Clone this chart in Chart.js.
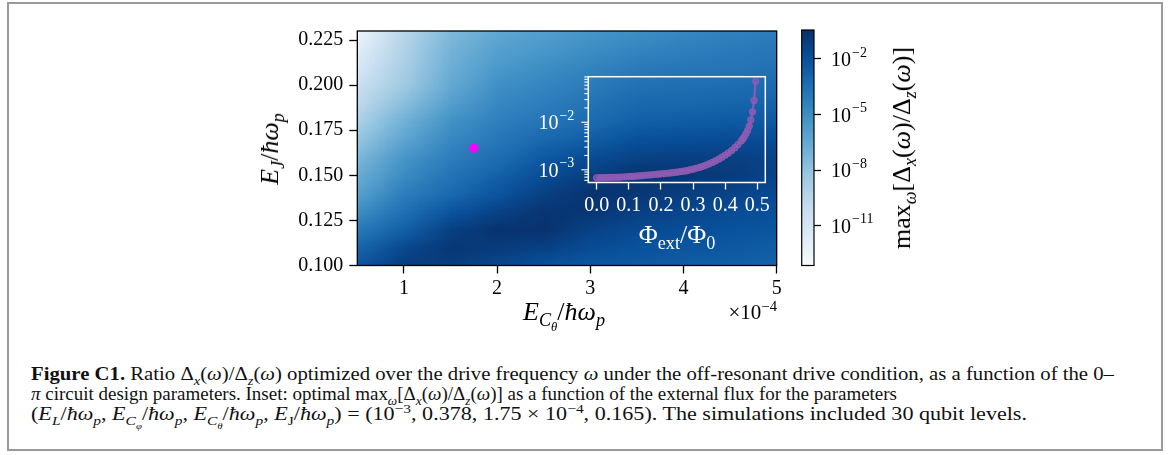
<!DOCTYPE html>
<html>
<head>
<meta charset="utf-8">
<script src="https://cdn.jsdelivr.net/npm/chart.js@4.4.1/dist/chart.umd.min.js"></script>
<style>
  html, body { margin: 0; padding: 0; background: #fff; }
  body { width: 1171px; height: 455px; position: relative; overflow: hidden; font-family: "Liberation Serif", serif; }
  #border { position: absolute; left: 7px; top: 2px; width: 1156px; height: 449px; box-sizing: border-box; border: 2px solid #9a9a9a; }
  .wrap { position: absolute; }
  .lbl { position: absolute; white-space: nowrap; font-family: "Liberation Serif", serif; font-size: 26px; color: #000; line-height: 1; }
  .center { transform: translate(-50%, -50%); }
  .rot { transform: translate(-50%, -50%) rotate(-90deg); }
  .lbl sub, .lbl sup, .cap sub, .cap sup { font-size: 70%; line-height: 0; }
  .cap { position: absolute; left: 31px; white-space: nowrap; font-size: 18.5px; line-height: 20px; color: #111; transform-origin: 0 50%; }
</style>
</head>
<body>
<div id="border"></div>

<div class="wrap" style="left:200px; top:0px; width:600px; height:340px;">
  <canvas id="mainChart" width="600" height="340"></canvas>
</div>
<div class="wrap" style="left:500px; top:60px; width:300px; height:200px;">
  <canvas id="insetChart" width="300" height="200"></canvas>
</div>
<div class="wrap" style="left:780px; top:0px; width:140px; height:300px;">
  <canvas id="cbarChart" width="140" height="300"></canvas>
</div>

<div class="lbl rot" style="left:270px; top:149px;"><i>E<sub>J</sub></i>/<i>ħω<sub>p</sub></i></div>
<div class="lbl center" style="left:564px; top:313px;"><i>E<sub>C<sub>θ</sub></sub></i>/<i>ħω<sub>p</sub></i></div>
<div class="lbl" style="right:394px; top:302px; font-size:21px;">×10<sup>−4</sup></div>
<div class="lbl rot" style="left:902px; top:148px;">max<sub><i>ω</i></sub>[Δ<sub><i>x</i></sub>(<i>ω</i>)/Δ<sub><i>z</i></sub>(<i>ω</i>)]</div>
<div class="lbl center" style="left:677px; top:235px; color:#fff;">Φ<sub>ext</sub>/Φ<sub>0</sub></div>

<div class="cap" id="cap1" style="top:364px;"><b>Figure C1.</b> Ratio Δ<sub><i>x</i></sub>(<i>ω</i>)/Δ<sub><i>z</i></sub>(<i>ω</i>) optimized over the drive frequency <i>ω</i> under the off-resonant drive condition, as a function of the 0–</div>
<div class="cap" id="cap2" style="top:384px;"><i>π</i> circuit design parameters. Inset: optimal max<sub><i>ω</i></sub>[Δ<sub><i>x</i></sub>(<i>ω</i>)/Δ<sub><i>z</i></sub>(<i>ω</i>)] as a function of the external flux for the parameters</div>
<div class="cap" id="cap3" style="top:404px;">(<i>E<sub>L</sub></i>/<i>ħω<sub>p</sub></i>, <i>E<sub>C<sub>φ</sub></sub></i>/<i>ħω<sub>p</sub></i>, <i>E<sub>C<sub>θ</sub></sub></i>/<i>ħω<sub>p</sub></i>, <i>E</i><sub>J</sub>/<i>ħω<sub>p</sub></i>) = (10<sup>−3</sup>, 0.378, 1.75 × 10<sup>−4</sup>, 0.165). The simulations included 30 qubit levels.</div>

<script>
// heatmap grid (E_Ctheta in units of 1e-4, E_J), values are log10 of the ratio
const ecTheta = [0.5, 1.0, 1.5, 2.0, 2.5, 3.0, 3.5, 4.0, 4.5, 5.0];
const ejVals = [0.10, 0.11, 0.12, 0.13, 0.14, 0.15, 0.16, 0.17, 0.18, 0.19, 0.20, 0.21, 0.22, 0.23];
const logRatio = [
  [-2.2, -1.0, -1.1, -1.6, -2.1, -2.4, -2.5, -2.6, -2.7, -2.9],
  [-3.0, -1.6, -0.8, -1.0, -1.3, -1.8, -2.1, -2.3, -2.4, -2.6],
  [-4.0, -2.7, -1.2, -0.6, -0.6, -1.3, -1.7, -1.9, -2.1, -2.3],
  [-5.0, -3.5, -2.2, -1.3, -0.7, -0.8, -1.2, -1.5, -1.8, -2.0],
  [-6.0, -4.2, -3.2, -2.2, -1.2, -0.6, -0.8, -1.1, -1.4, -1.7],
  [-6.7, -4.8, -3.7, -2.8, -1.8, -1.1, -0.6, -0.8, -1.0, -1.4],
  [-7.3, -5.4, -4.2, -3.4, -2.4, -1.8, -1.3, -1.2, -1.2, -1.4],
  [-8.1, -6.2, -4.7, -3.9, -3.1, -2.6, -2.0, -1.9, -1.8, -1.8],
  [-8.9, -6.9, -5.2, -4.3, -3.8, -3.3, -2.7, -2.6, -2.5, -2.4],
  [-9.7, -7.7, -5.9, -4.7, -4.2, -3.7, -3.2, -3.1, -3.0, -2.9],
  [-10.4, -8.4, -6.5, -5.1, -4.6, -4.1, -3.6, -3.5, -3.4, -3.3],
  [-11.1, -8.8, -6.8, -5.6, -5.0, -4.5, -4.1, -3.9, -3.8, -3.6],
  [-11.8, -9.1, -7.1, -6.0, -5.5, -5.0, -4.6, -4.3, -4.1, -3.9],
  [-12.5, -9.4, -7.4, -6.4, -5.9, -5.4, -5.0, -4.7, -4.4, -4.2]
];

// chosen design point
const pointEc = [1.75];
const pointEj = [0.165];

// inset: flux sweep
const phiExt = [0.00, 0.01, 0.02, 0.03, 0.04, 0.05, 0.06, 0.07, 0.08, 0.09,
  0.10, 0.11, 0.12, 0.13, 0.14, 0.15, 0.16, 0.17, 0.18, 0.19,
  0.20, 0.21, 0.22, 0.23, 0.24, 0.25, 0.26, 0.27, 0.28, 0.29,
  0.30, 0.31, 0.32, 0.33, 0.34, 0.35, 0.36, 0.37, 0.38, 0.39,
  0.40, 0.41, 0.42, 0.43, 0.44, 0.45, 0.455, 0.46, 0.465, 0.47,
  0.475, 0.48, 0.485, 0.49, 0.495];
const insetRatio = [6.79e-4, 6.81e-4, 6.82e-4, 6.85e-4, 6.89e-4, 6.92e-4, 6.95e-4, 6.98e-4, 7.05e-4, 7.11e-4,
  7.18e-4, 7.26e-4, 7.35e-4, 7.43e-4, 7.53e-4, 7.64e-4, 7.74e-4, 7.85e-4, 7.96e-4, 8.07e-4,
  8.18e-4, 8.32e-4, 8.45e-4, 8.59e-4, 8.75e-4, 8.91e-4, 9.12e-4, 9.33e-4, 9.59e-4, 9.91e-4,
  1.028e-3, 1.072e-3, 1.122e-3, 1.180e-3, 1.253e-3, 1.334e-3, 1.429e-3, 1.542e-3, 1.675e-3, 1.837e-3,
  2.032e-3, 2.265e-3, 2.547e-3, 2.917e-3, 3.388e-3, 4.027e-3, 4.467e-3, 5.012e-3, 5.754e-3, 6.761e-3,
  8.318e-3, 1.122e-2, 1.660e-2, 2.884e-2, 7.244e-2];

// ticks
const xTicks = [1, 2, 3, 4, 5];
const yTicks = [0.100, 0.125, 0.150, 0.175, 0.200, 0.225];
const phiTicks = [0.0, 0.1, 0.2, 0.3, 0.4, 0.5];
const insetPowers = [-3, -2];
const cbarPowers = [-11, -8, -5, -2];
const cbarLog = [-13.15, -0.44];

const FONT = "Liberation Serif";
const blues = ['#f7fbff', '#deebf7', '#c6dbef', '#9ecae1', '#6baed6', '#4292c6', '#2171b5', '#08519c', '#08306b'];

function hexRgb(h) {
  return [1, 3, 5].map(i => parseInt(h.substr(i, 2), 16));
}
function cmap(t) {
  t = Math.max(0, Math.min(1, t));
  let s = t * (blues.length - 1);
  let i = Math.min(Math.floor(s), blues.length - 2);
  let f = s - i;
  let a = hexRgb(blues[i]), b = hexRgb(blues[i + 1]);
  return a.map((v, k) => Math.round(v + (b[k] - v) * f));
}

// "10^p" label drawn with a raised exponent
function drawPow(ctx, x, y, p, align, color) {
  ctx.save();
  ctx.fillStyle = color;
  ctx.textBaseline = 'middle';
  ctx.textAlign = 'left';
  ctx.font = '20px "' + FONT + '"';
  let wb = ctx.measureText('10').width;
  ctx.font = '14px "' + FONT + '"';
  let ex = '\u2212' + Math.abs(p);
  let we = ctx.measureText(ex).width;
  let x0 = align == 'right' ? x - wb - we - 1 : x;
  ctx.font = '20px "' + FONT + '"';
  ctx.fillText('10', x0, y + 2);
  ctx.font = '14px "' + FONT + '"';
  ctx.fillText(ex, x0 + wb + 1, y - 6);
  ctx.restore();
}

const heatmapPlugin = {
  id: 'heatmap',
  beforeDatasetsDraw(chart) {
    const { ctx, chartArea: a, scales: { x, y } } = chart;
    const nx = ecTheta.length, ny = ejVals.length;
    const off = document.createElement('canvas');
    off.width = nx;
    off.height = ny;
    const octx = off.getContext('2d');
    const img = octx.createImageData(nx, ny);
    for (let j = 0; j < ny; j++) {
      for (let i = 0; i < nx; i++) {
        let t = (logRatio[j][i] - cbarLog[0]) / (cbarLog[1] - cbarLog[0]);
        let c = cmap(t);
        let k = ((ny - 1 - j) * nx + i) * 4;
        img.data[k] = c[0];
        img.data[k + 1] = c[1];
        img.data[k + 2] = c[2];
        img.data[k + 3] = 255;
      }
    }
    octx.putImageData(img, 0, 0);
    const dx = (ecTheta[1] - ecTheta[0]) / 2, dy = (ejVals[1] - ejVals[0]) / 2;
    const x0 = x.getPixelForValue(ecTheta[0] - dx), x1 = x.getPixelForValue(ecTheta[nx - 1] + dx);
    const y0 = y.getPixelForValue(ejVals[ny - 1] + dy), y1 = y.getPixelForValue(ejVals[0] - dy);
    ctx.save();
    ctx.beginPath();
    ctx.rect(a.left, a.top, a.right - a.left, a.bottom - a.top);
    ctx.clip();
    ctx.imageSmoothingEnabled = true;
    ctx.drawImage(off, x0, y0, x1 - x0, y1 - y0);
    ctx.restore();
  },
  afterDraw(chart) {
    const { ctx, chartArea: a } = chart;
    ctx.save();
    ctx.strokeStyle = '#000';
    ctx.lineWidth = 1.3;
    ctx.strokeRect(a.left, a.top, a.right - a.left, a.bottom - a.top);
    ctx.restore();
  }
};

new Chart(document.getElementById('mainChart'), {
  type: 'scatter',
  data: {
    datasets: [{
      data: pointEc.map((v, i) => ({ x: v, y: pointEj[i] })),
      backgroundColor: '#ff00ff',
      borderColor: '#ff00ff',
      pointRadius: 4.5,
      borderWidth: 0
    }]
  },
  options: {
    responsive: false,
    animation: false,
    events: [],
    layout: { padding: { left: 0, right: 23.3, top: 31, bottom: 34.5 } },
    plugins: { legend: { display: false }, tooltip: { enabled: false } },
    scales: {
      x: {
        type: 'linear', min: 0.5, max: 5,
        afterBuildTicks: s => { s.ticks = xTicks.map(v => ({ value: v })); },
        afterFit: s => { s.height = 40; },
        grid: { drawOnChartArea: false, drawTicks: true, tickLength: 8, tickWidth: 1.3, tickColor: '#000' },
        border: { display: false },
        ticks: { color: '#000', font: { family: FONT, size: 20 }, padding: 3, maxRotation: 0, callback: v => String(v) }
      },
      y: {
        type: 'linear', min: 0.1, max: 0.23,
        afterBuildTicks: s => { s.ticks = yTicks.map(v => ({ value: v })); },
        afterFit: s => { s.width = 157.3; },
        grid: { drawOnChartArea: false, drawTicks: true, tickLength: 8, tickWidth: 1.3, tickColor: '#000' },
        border: { display: false },
        ticks: { color: '#000', font: { family: FONT, size: 20 }, padding: 6, callback: v => v.toFixed(3) }
      }
    }
  },
  plugins: [heatmapPlugin]
});

const insetAxes = {
  id: 'insetAxes',
  afterDraw(chart) {
    const { ctx, chartArea: a, scales: { y } } = chart;
    ctx.save();
    ctx.strokeStyle = '#fff';
    ctx.lineWidth = 1.5;
    ctx.strokeRect(a.left, a.top, a.right - a.left, a.bottom - a.top);
    ctx.lineWidth = 1.1;
    for (let e = -4; e <= -1; e++) {
      for (let m = 1; m <= 9; m++) {
        let v = m * Math.pow(10, e);
        if (v < y.min || v > y.max) continue;
        let py = y.getPixelForValue(v);
        let len = m == 1 ? 7 : 4;
        ctx.beginPath();
        ctx.moveTo(a.left - len, py);
        ctx.lineTo(a.left, py);
        ctx.stroke();
      }
    }
    ctx.restore();
    insetPowers.forEach(p => {
      drawPow(ctx, a.left - 14, y.getPixelForValue(Math.pow(10, p)), p, 'right', '#fff');
    });
  }
};

new Chart(document.getElementById('insetChart'), {
  type: 'line',
  data: {
    datasets: [{
      data: phiExt.map((v, i) => ({ x: v, y: insetRatio[i] })),
      borderColor: 'rgba(142,92,178,0.95)',
      borderWidth: 2.2,
      pointRadius: 3,
      pointBackgroundColor: 'rgba(142,92,178,0.7)',
      pointBorderColor: 'rgba(142,92,178,0.95)',
      pointBorderWidth: 1.2,
      tension: 0
    }]
  },
  options: {
    responsive: false,
    animation: false,
    events: [],
    layout: { padding: { left: 88.3, right: 34.7, top: 16.7, bottom: 37.5 } },
    plugins: { legend: { display: false }, tooltip: { enabled: false } },
    scales: {
      x: {
        type: 'linear', min: -0.026, max: 0.525,
        afterBuildTicks: s => { s.ticks = phiTicks.map(v => ({ value: v })); },
        afterFit: s => { s.height = 40; },
        grid: { drawOnChartArea: false, drawTicks: true, tickLength: 7, tickWidth: 1.3, tickColor: '#fff' },
        border: { display: false },
        ticks: { color: '#fff', font: { family: FONT, size: 20 }, padding: 4, maxRotation: 0, autoSkip: false, callback: v => v.toFixed(1) }
      },
      y: { type: 'logarithmic', min: 5.4e-4, max: 0.0908, display: false }
    }
  },
  plugins: [insetAxes]
});

const cbarAxes = {
  id: 'cbarAxes',
  afterDraw(chart) {
    const { ctx, chartArea: a, scales: { y } } = chart;
    ctx.save();
    ctx.strokeStyle = '#000';
    ctx.lineWidth = 1.2;
    ctx.strokeRect(a.left, a.top, a.right - a.left, a.bottom - a.top);
    ctx.restore();
    cbarPowers.forEach(p => {
      drawPow(ctx, a.right + 17, y.getPixelForValue(Math.pow(10, p)), p, 'left', '#000');
    });
  }
};

new Chart(document.getElementById('cbarChart'), {
  type: 'bar',
  data: {
    labels: [''],
    datasets: [{
      data: [[Math.pow(10, cbarLog[0]), Math.pow(10, cbarLog[1])]],
      backgroundColor: c => {
        const a = c.chart.chartArea;
        if (!a) return blues[4];
        const g = c.chart.ctx.createLinearGradient(0, a.bottom, 0, a.top);
        blues.forEach((col, i) => g.addColorStop(i / (blues.length - 1), col));
        return g;
      },
      borderWidth: 0,
      barPercentage: 1,
      categoryPercentage: 1
    }]
  },
  options: {
    responsive: false,
    animation: false,
    events: [],
    layout: { padding: { left: 21.7, right: 46, top: 30, bottom: 34.5 } },
    plugins: { legend: { display: false }, tooltip: { enabled: false } },
    scales: {
      x: { display: false },
      y: {
        type: 'logarithmic', position: 'right',
        min: Math.pow(10, cbarLog[0]), max: Math.pow(10, cbarLog[1]),
        afterBuildTicks: s => { s.ticks = cbarPowers.map(p => ({ value: Math.pow(10, p) })); },
        afterFit: s => { s.width = 60; },
        grid: { drawOnChartArea: false, drawTicks: true, tickLength: 7, tickWidth: 1.3, tickColor: '#000' },
        border: { display: false },
        ticks: { display: false }
      }
    }
  },
  plugins: [cbarAxes]
});

// fit caption lines to the widths of the printed caption
const capWidths = { cap1: 1083, cap2: 866, cap3: 996 };
Object.keys(capWidths).forEach(id => {
  const el = document.getElementById(id);
  const w = el.getBoundingClientRect().width;
  el.style.transform = 'scaleX(' + (capWidths[id] / w) + ')';
});
</script>
</body>
</html>
